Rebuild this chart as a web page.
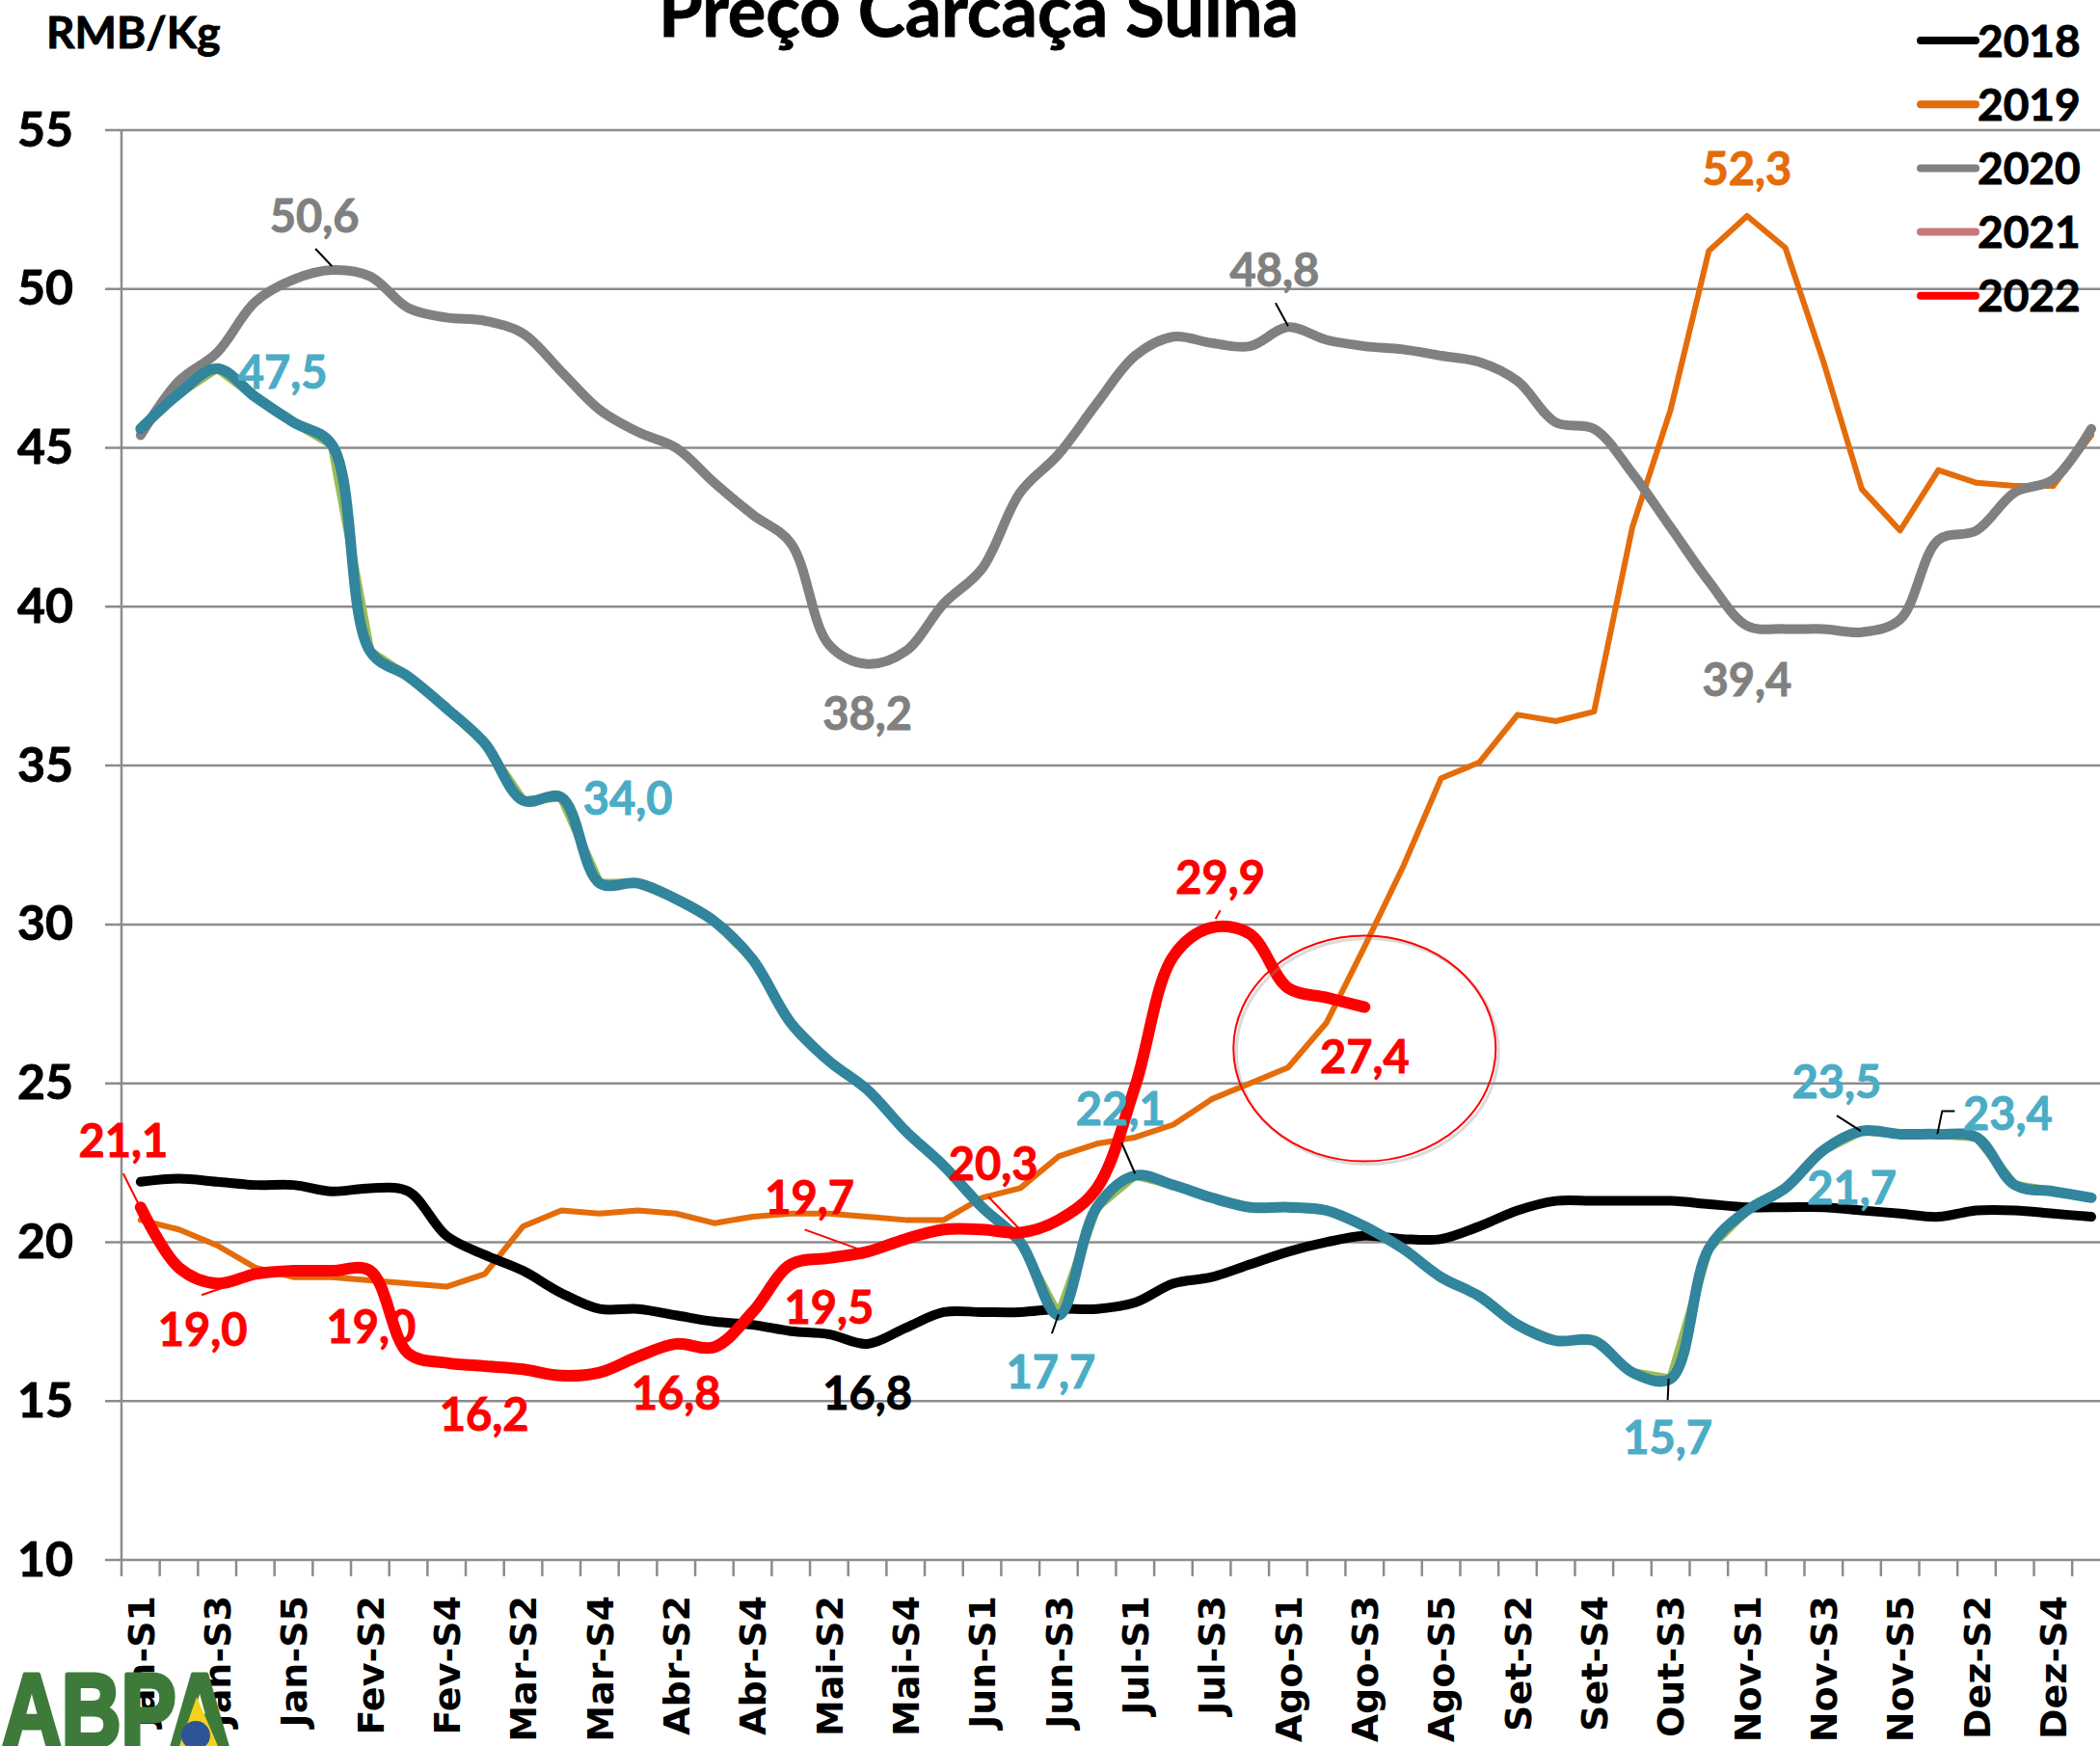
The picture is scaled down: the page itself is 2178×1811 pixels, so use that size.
<!DOCTYPE html>
<html>
<head>
<meta charset="utf-8">
<script src="https://cdn.jsdelivr.net/npm/d3@7"></script>
<style>
  body { margin: 0; background: #fff; }
  svg { display: block; }
</style>
</head>
<body>
<div id="chart"></div>
<script>
// weekly categories (only every other one is labelled on the axis)
const weeks = [
  "Jan-S1", "Jan-S2", "Jan-S3", "Jan-S4", "Jan-S5",
  "Fev-S1", "Fev-S2", "Fev-S3", "Fev-S4",
  "Mar-S1", "Mar-S2", "Mar-S3", "Mar-S4",
  "Abr-S1", "Abr-S2", "Abr-S3", "Abr-S4",
  "Mai-S1", "Mai-S2", "Mai-S3", "Mai-S4", "Mai-S5",
  "Jun-S1", "Jun-S2", "Jun-S3", "Jun-S4",
  "Jul-S1", "Jul-S2", "Jul-S3", "Jul-S4",
  "Ago-S1", "Ago-S2", "Ago-S3", "Ago-S4", "Ago-S5",
  "Set-S1", "Set-S2", "Set-S3", "Set-S4",
  "Out-S2", "Out-S3", "Out-S4",
  "Nov-S1", "Nov-S2", "Nov-S3", "Nov-S4", "Nov-S5",
  "Dez-S1", "Dez-S2", "Dez-S3", "Dez-S4", "Dez-S5"
];

const years = ["2018", "2019", "2020", "2021", "2022"];

const values2018 = [21.9, 22.0, 21.9, 21.8, 21.8, 21.6, 21.7, 21.6, 20.2, 19.6,
  19.1, 18.4, 17.9, 17.9, 17.7, 17.5, 17.4, 17.2, 17.1, 16.8,
  17.3, 17.8, 17.8, 17.8, 17.9, 17.9, 18.1, 18.7, 18.9, 19.3,
  19.7, 20.0, 20.2, 20.1, 20.1, 20.5, 21.0, 21.3, 21.3, 21.3,
  21.3, 21.2, 21.1, 21.1, 21.1, 21.0, 20.9, 20.8, 21.0, 21.0,
  20.9, 20.8];

const values2019 = [20.7, 20.4, 19.9, 19.2, 18.9, 18.9, 18.8, 18.7, 18.6, 19.0,
  20.5, 21.0, 20.9, 21.0, 20.9, 20.6, 20.8, 20.9, 20.9, 20.8,
  20.7, 20.7, 21.4, 21.7, 22.7, 23.1, 23.3, 23.7, 24.5, 25.0,
  25.5, 26.9, 29.3, 31.8, 34.6, 35.1, 36.6, 36.4, 36.7, 42.5,
  46.2, 51.2, 52.3, 51.3, 47.7, 43.7, 42.4, 44.3, 43.9, 43.8,
  43.8, 45.4];

const values2020 = [45.4, 47.1, 48.0, 49.6, 50.3, 50.6, 50.4, 49.4, 49.1, 49.0,
  48.6, 47.4, 46.2, 45.5, 45.0, 43.9, 42.9, 42.0, 38.8, 38.2,
  38.6, 40.1, 41.2, 43.6, 44.8, 46.4, 47.9, 48.5, 48.3, 48.2,
  48.8, 48.4, 48.2, 48.1, 47.9, 47.7, 47.1, 45.8, 45.6, 44.2,
  42.5, 40.8, 39.4, 39.3, 39.3, 39.2, 39.6, 42.1, 42.4, 43.6,
  44.0, 45.6];

const values2021 = [45.6, 46.7, 47.5, 46.6, 45.8, 45.1, 38.6, 37.8, 36.8, 35.7,
  33.9, 34.0, 31.3, 31.3, 30.8, 30.1, 28.9, 26.9, 25.7, 24.8,
  23.5, 22.4, 21.1, 20.0, 17.7, 21.1, 22.1, 21.8, 21.4, 21.1,
  21.1, 21.0, 20.5, 19.8, 18.9, 18.3, 17.4, 16.9, 16.9, 15.9,
  15.7, 19.8, 21.0, 21.7, 22.9, 23.5, 23.4, 23.4, 23.3, 21.8,
  21.6, 21.4];

// 2022 only runs up to Ago-S3
const values2022 = [21.1, 19.2, 18.7, 19.0, 19.1, 19.1, 19.1, 16.5, 16.2, 16.1,
  16.0, 15.8, 15.9, 16.4, 16.8, 16.7, 17.8, 19.3, 19.5, 19.7,
  20.1, 20.4, 20.4, 20.3, 20.7, 21.7, 24.9, 29.0, 29.9, 29.7,
  28.0, 27.7, 27.4];

const yTicks = [10, 15, 20, 25, 30, 35, 40, 45, 50, 55];

// [year, week index, text]
const dataLabels = [
  ["2020", 5, "50,6"],
  ["2021", 2, "47,5"],
  ["2021", 11, "34,0"],
  ["2022", 0, "21,1"],
  ["2022", 2, "19,0"],
  ["2022", 6, "19,0"],
  ["2022", 8, "16,2"],
  ["2022", 14, "16,8"],
  ["2022", 18, "19,5"],
  ["2022", 19, "19,7"],
  ["2018", 19, "16,8"],
  ["2022", 23, "20,3"],
  ["2021", 24, "17,7"],
  ["2021", 26, "22,1"],
  ["2022", 28, "29,9"],
  ["2022", 32, "27,4"],
  ["2020", 19, "38,2"],
  ["2020", 30, "48,8"],
  ["2019", 42, "52,3"],
  ["2020", 42, "39,4"],
  ["2021", 40, "15,7"],
  ["2021", 45, "23,5"],
  ["2021", 43, "21,7"],
  ["2021", 47, "23,4"]
];

(function() {
  const WIDTH = 2178;
  const HEIGHT = 1811;
  const LABEL_FONT = "Lato, 'Open Sans', sans-serif";
  const AXIS_FONT = "'DejaVu Sans', Verdana, sans-serif";

  const plotLeft = 126;
  const plotTop = 135;
  const plotBottom = 1618;
  const step = 39.67;
  const plotRight = plotLeft + step * weeks.length;
  const gridColor = "#8c8c8c";

  const byYear = {
    "2018": values2018,
    "2019": values2019,
    "2020": values2020,
    "2021": values2021,
    "2022": values2022
  };

  const legendColors = {
    "2018": "#000000",
    "2019": "#e46c0a",
    "2020": "#808080",
    "2021": "#c87878",
    "2022": "#ff0000"
  };

  const labelColors = {
    "2018": "#000000",
    "2019": "#e46c0a",
    "2020": "#808080",
    "2021": "#4bacc6",
    "2022": "#ff0000"
  };

  // drawing order, bottom to top
  const SERIES = [
    { year: "2019", color: "#e46c0a", width: 6, smooth: false },
    { year: "2018", color: "#000000", width: 10, smooth: true },
    { year: "2020", color: "#808080", width: 10, smooth: true },
    { year: "2021", color: "#9bbb59", width: 9, smooth: false },
    { year: "2021", color: "#31859c", width: 11, smooth: true },
    { year: "2022", color: "#ff0000", width: 12, smooth: true }
  ];

  // offsets of each label centre from its point, plus leader line
  const LABEL_PLACEMENT = [
    { dx: -18, dy: -55, leader: [[0, -4], [-17, -22]] },
    { dx: 68, dy: 4 },
    { dx: 69, dy: 1 },
    { dx: -18, dy: -69, leader: [[-1, -1], [-18, -35]] },
    { dx: -15, dy: 48, leader: [[4, 5], [-16, 12]] },
    { dx: 1, dy: 58 },
    { dx: 39, dy: 54 },
    { dx: 0, dy: 52 },
    { dx: 0, dy: 52 },
    { dx: -60, dy: -56, leader: [[-7, -2], [-65, -23]] },
    { dx: 0, dy: 52 },
    { dx: -28, dy: -71, leader: [[-2, -5], [-33, -37]] },
    { dx: -8, dy: 59, leader: [[0, -1], [-7, 19]] },
    { dx: -15, dy: -69, leader: [[0, -2], [-14, -34]] },
    { dx: 9, dy: -52, leader: [[4, -9], [9, -18]] },
    { dx: 0, dy: 52 },
    { dx: 0, dy: 52 },
    { dx: -14, dy: -59, leader: [[0, -1], [-13, -25]] },
    { dx: 0, dy: -48 },
    { dx: 0, dy: 56 },
    { dx: -3, dy: 61, leader: [[-2, 0], [-3, 22]] },
    { dx: -26, dy: -51, leader: [[-1, 0], [-26, -16]] },
    { dx: 69, dy: 0 },
    { dx: 72, dy: -21, leader: [[-1, 0], [4, -24], [17, -24]] }
  ];

  const svg = d3
    .select("#chart")
    .append("svg")
    .attr("width", WIDTH)
    .attr("height", HEIGHT)
    .style("background", "#fff");

  const x = d3
    .scaleBand()
    .domain(weeks)
    .range([plotLeft, plotRight]);

  const y = d3
    .scaleLinear()
    .domain([10, 55])
    .range([plotBottom, plotTop]);

  const cx = i => x(weeks[i]) + x.bandwidth() / 2;

  // bold text helper: Calibri-like heavy look
  const heavy = (sel, size, color) =>
    sel
      .style("font-family", LABEL_FONT)
      .style("font-weight", "bold")
      .style("font-size", size)
      .attr("fill", color)
      .attr("stroke", color)
      .attr("stroke-width", 0.9);

  // horizontal gridlines
  svg
    .append("g")
    .selectAll("line")
    .data(yTicks)
    .enter()
    .append("line")
    .attr("x1", plotLeft - 17)
    .attr("x2", plotRight)
    .attr("y1", d => y(d))
    .attr("y2", d => y(d))
    .attr("stroke", gridColor)
    .attr("stroke-width", 2.5);

  // vertical axis line
  svg
    .append("line")
    .attr("x1", plotLeft)
    .attr("x2", plotLeft)
    .attr("y1", plotTop)
    .attr("y2", plotBottom)
    .attr("stroke", gridColor)
    .attr("stroke-width", 2.5);

  // category boundary ticks
  svg
    .append("g")
    .selectAll("line")
    .data(weeks.concat([null]))
    .enter()
    .append("line")
    .attr("x1", (d, i) => plotLeft + i * x.step())
    .attr("x2", (d, i) => plotLeft + i * x.step())
    .attr("y1", plotBottom)
    .attr("y2", plotBottom + 17)
    .attr("stroke", gridColor)
    .attr("stroke-width", 2.5);

  // y tick labels
  const leftAxis = d3
    .axisLeft(y)
    .tickValues(yTicks)
    .tickSize(0)
    .tickPadding(50)
    .tickFormat(d3.format("d"));
  const yAxisG = svg
    .append("g")
    .attr("transform", `translate(${plotLeft}, 0)`)
    .call(leftAxis);
  yAxisG.select(".domain").remove();
  heavy(yAxisG.selectAll("text"), "50px", "#000");

  // x tick labels, every other week
  const bottomAxis = d3
    .axisBottom(x)
    .tickSize(0)
    .tickFormat((d, i) => (i % 2 === 0 ? d : ""));
  const xAxisG = svg
    .append("g")
    .attr("transform", `translate(0, ${plotBottom})`)
    .call(bottomAxis);
  xAxisG.select(".domain").remove();
  xAxisG
    .selectAll("text")
    .attr("transform", "rotate(-90)")
    .attr("text-anchor", "end")
    .attr("x", -37)
    .attr("y", 0)
    .attr("dy", "0.36em")
    .style("font-family", AXIS_FONT)
    .style("font-weight", "bold")
    .style("font-size", "38px")
    .attr("fill", "#000");

  // series
  const lineStraight = d3
    .line()
    .defined(d => d != null)
    .x((d, i) => cx(i))
    .y(d => y(d));
  const lineSmooth = d3
    .line()
    .defined(d => d != null)
    .x((d, i) => cx(i))
    .y(d => y(d))
    .curve(d3.curveCatmullRom.alpha(0.5));

  svg
    .append("g")
    .selectAll("path")
    .data(SERIES)
    .enter()
    .append("path")
    .attr("d", s => (s.smooth ? lineSmooth : lineStraight)(byYear[s.year]))
    .attr("fill", "none")
    .attr("stroke", s => s.color)
    .attr("stroke-width", s => s.width)
    .attr("stroke-linecap", "round")
    .attr("stroke-linejoin", "round");

  // highlight ellipse around the latest 2022 value
  const lastIdx = values2022.length - 1;
  const ellipse = {
    cx: cx(lastIdx),
    cy: y(values2022[lastIdx]) + 43
  };
  svg
    .append("ellipse")
    .attr("cx", ellipse.cx + 3)
    .attr("cy", ellipse.cy + 3)
    .attr("rx", 136)
    .attr("ry", 117)
    .attr("fill", "none")
    .attr("stroke", "#999")
    .attr("stroke-opacity", 0.35)
    .attr("stroke-width", 3);
  svg
    .append("ellipse")
    .attr("cx", ellipse.cx)
    .attr("cy", ellipse.cy)
    .attr("rx", 136)
    .attr("ry", 117)
    .attr("fill", "none")
    .attr("stroke", "#ff0000")
    .attr("stroke-width", 2);

  // data labels
  const labels = svg.append("g");
  dataLabels.forEach((lab, k) => {
    const [year, idx, text] = lab;
    const place = LABEL_PLACEMENT[k];
    const px = cx(idx);
    const py = y(byYear[year][idx]);
    if (place.leader) {
      labels
        .append("polyline")
        .attr("points", place.leader.map(p => `${px + p[0]},${py + p[1]}`).join(" "))
        .attr("fill", "none")
        .attr("stroke", year === "2022" ? "#ff0000" : "#000")
        .attr("stroke-width", 2);
    }
    const t = labels
      .append("text")
      .attr("x", px + place.dx)
      .attr("y", py + place.dy)
      .attr("dy", "0.35em")
      .attr("text-anchor", "middle")
      .text(text);
    heavy(t, "47px", labelColors[year]);
  });

  // title and unit
  heavy(
    svg
      .append("text")
      .attr("x", 1015)
      .attr("y", 38)
      .attr("text-anchor", "middle")
      .text("Preço Carcaça Suína"),
    "74px",
    "#000"
  );

  heavy(
    svg
      .append("text")
      .attr("x", 48)
      .attr("y", 50)
      .text("RMB/Kg"),
    "46px",
    "#000"
  );

  // legend
  const legend = svg
    .append("g")
    .selectAll("g")
    .data(years)
    .enter()
    .append("g")
    .attr("transform", (d, i) => `translate(1992, ${42 + i * 66.2})`);
  legend
    .append("line")
    .attr("x1", 0)
    .attr("x2", 57)
    .attr("stroke", d => legendColors[d])
    .attr("stroke-width", 8)
    .attr("stroke-linecap", "round");
  heavy(
    legend
      .append("text")
      .attr("x", 59)
      .attr("dy", "0.36em")
      .text(d => d),
    "46px",
    "#000"
  );

  // ABPA logo
  const logo = svg.append("g");
  logo
    .append("text")
    .attr("x", 2)
    .attr("y", 1811)
    .attr("textLength", 236)
    .attr("lengthAdjust", "spacingAndGlyphs")
    .text("ABPA")
    .style("font-family", "'Liberation Sans', Arial, sans-serif")
    .style("font-weight", "bold")
    .style("font-size", "108px")
    .attr("fill", "#3e7b3a")
    .attr("stroke", "#3e7b3a")
    .attr("stroke-width", 5)
    .attr("stroke-linejoin", "round");
  logo
    .append("polygon")
    .attr("points", "204,1760 186,1811 226,1811")
    .attr("fill", "#f2d21b");
  logo
    .append("circle")
    .attr("cx", 203)
    .attr("cy", 1800)
    .attr("r", 15)
    .attr("fill", "#2c5597");
})();
</script>
</body>
</html>
